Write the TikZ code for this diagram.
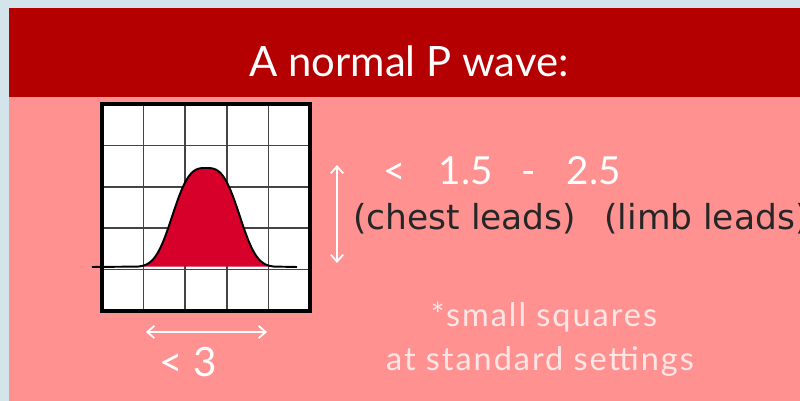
\documentclass[tikz,border=0pt]{standalone}
\usepackage{fontspec}
\setmainfont{Lato}
\newfontfamily\leadsfont{DejaVu Sans}
\newfontfamily\notefont[LetterSpace=6]{Lato}
\usetikzlibrary{arrows.meta}
\definecolor{hdrred}{HTML}{B40000}
\definecolor{bodypink}{HTML}{FF9191}
\definecolor{edgeblue}{HTML}{D3E4EA}
\definecolor{wavered}{HTML}{D6002A}
\definecolor{notepink}{HTML}{FFE6E6}
\definecolor{gridgray}{HTML}{444444}
\tikzset{
  measure/.style={white,line width=1pt,{Straight Barb[length=4pt,width=7pt]}-{Straight Barb[length=4pt,width=7pt]}},
  gridline/.style={gridgray,line width=1pt},
}
\begin{document}
\begin{tikzpicture}[x=0.02cm,y=-0.02cm]
  \useasboundingbox (0,0) rectangle (800,401);
  \fill[edgeblue] (0,0) rectangle (800,401);
  \fill[hdrred] (9,8) rectangle (800,97);
  \fill[bodypink] (9,97) rectangle (800,401);
  \node[anchor=base,white,font=\fontsize{23.8}{28}\selectfont] (title) at (409,77) {A normal P wave:};
  % small squares with the wave on top
  \fill[white] (102,104) rectangle (310,311);
  \foreach \i in {1,...,4} {
    \draw[gridline] ({102+41.6*\i},104) -- ({102+41.6*\i},311);
    \draw[gridline] (102,{104+41.4*\i}) -- (310,{104+41.4*\i});
  }
  \fill[wavered] plot[domain=138:274,samples=90] (\x,{267-99*exp(-((abs(\x-206)/38.7)^3))}) -- cycle;
  \draw[line width=1.1pt] (92,267) -- plot[domain=138:274,samples=90] (\x,{267-99*exp(-((abs(\x-206)/38.7)^3))}) -- (297,267);
  \draw[line width=2.3pt] (102,104) rectangle (310,311);
  % measures
  \coordinate (vtop) at (337,165);
  \coordinate (vbot) at (337,263);
  \draw[measure] (vtop) -- (vbot);
  \coordinate (hleft) at (146,332);
  \coordinate (hright) at (267,332);
  \draw[measure] (hleft) -- (hright);
  \node[anchor=base west,white,font=\fontsize{22}{26}\selectfont,inner sep=0pt] (height) at (383,185) {<\hspace{0.85em}1.5\hspace{0.75em}-\hspace{0.8em}2.5};
  \node[anchor=base west,black!85,font=\leadsfont\fontsize{19.6}{24}\selectfont,inner sep=0pt] (leads) at (353,230) {(chest leads)\hspace{0.82em}(limb leads)};
  \node[anchor=base west,white,font=\fontsize{23}{28}\selectfont,inner sep=0pt] (width) at (159,377) {< 3};
  \node[anchor=base,notepink,font=\notefont\fontsize{18.5}{22}\selectfont] (note) at (544,327) {*small squares};
  \node[anchor=base,notepink,font=\notefont\fontsize{18.5}{22}\selectfont] (setting) at (540,370) {at standard settings};
\end{tikzpicture}
\end{document}
